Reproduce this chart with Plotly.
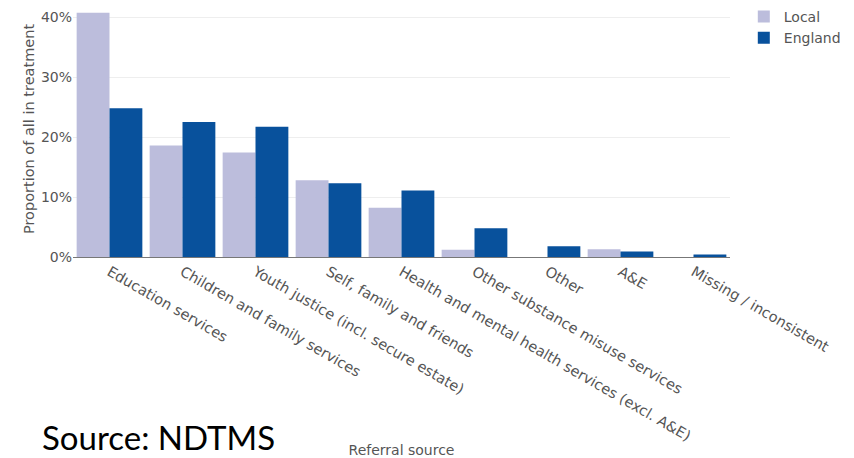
import plotly.graph_objects as go

categories = [
    "Education services",
    "Children and family services",
    "Youth justice (incl. secure estate)",
    "Self, family and friends",
    "Health and mental health services (excl. A&E)",
    "Other substance misuse services",
    "Other",
    "A&E",
    "Missing / inconsistent",
]
local_values = [0.407, 0.186, 0.174, 0.128, 0.082, 0.012, 0.0, 0.013, 0.0]
england_values = [0.248, 0.225, 0.217, 0.123, 0.111, 0.048, 0.018, 0.009, 0.004]

fig = go.Figure()
fig.add_trace(go.Bar(name="Local", x=categories, y=local_values,
                     marker=dict(color="#BCBDDC", line=dict(width=0))))
fig.add_trace(go.Bar(name="England", x=categories, y=england_values,
                     marker=dict(color="#08519C", line=dict(width=0))))

fig.update_layout(
    width=854, height=458,
    barmode="group", bargap=0.1, bargroupgap=0,
    plot_bgcolor="white", paper_bgcolor="white",
    font=dict(family="DejaVu Sans", size=13, color="#555"),
    margin=dict(l=73, r=124, t=1, b=201),
    legend=dict(x=1.021, y=1.0, xanchor="left", yanchor="top", font=dict(size=14)),
    xaxis=dict(tickangle=30, automargin=False,
               title=dict(text="Referral source", font=dict(size=14), standoff=8),
               showline=True, linecolor="#777", linewidth=1, tickfont=dict(size=14.5)),
    yaxis=dict(range=[0, 0.4267], dtick=0.1, tickformat=".0%", gridcolor="#eee",
               automargin=False, zeroline=False,
               title=dict(text="Proportion of all in treatment", font=dict(size=14.5), standoff=2),
               tickfont=dict(size=14)),
    annotations=[dict(text="Source: NDTMS", xref="paper", yref="paper",
                      x=-0.05, y=-0.703, xanchor="left", yanchor="middle",
                      showarrow=False, font=dict(family="Lato", size=33, color="black"))],
)

fig.write_html("out.html", config={"displayModeBar": False},
               post_script="document.body.style.margin='0';")
